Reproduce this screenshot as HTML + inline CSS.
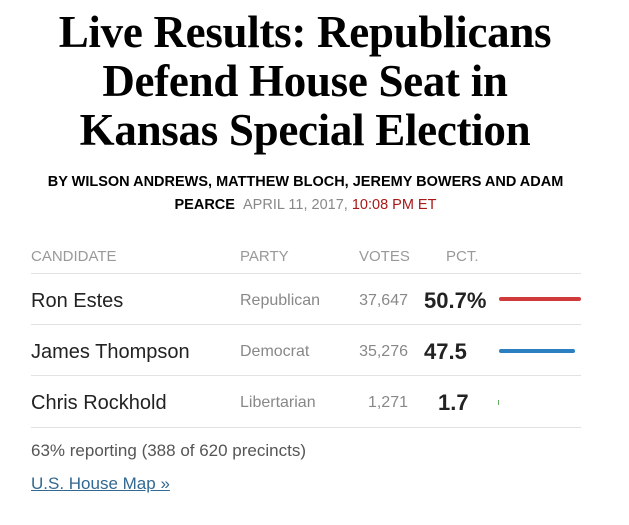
<!DOCTYPE html>
<html><head><meta charset="utf-8"><style>
body{margin:0;width:629px;height:525px;background:#fff;position:relative;overflow:hidden;font-family:"Liberation Sans",sans-serif;}
.a{position:absolute;white-space:nowrap;}
h1{position:absolute;left:0;width:610px;top:8px;margin:0;text-align:center;font-family:"Liberation Serif",serif;font-weight:bold;font-size:45px;line-height:49px;color:#000;letter-spacing:-0.3px;}
.by{left:0;width:611px;text-align:center;font-size:14.5px;font-weight:bold;color:#000;}
.hd{top:248px;font-size:15px;color:#999;}
.ln{left:31px;width:550px;height:1px;background:#e2e2e2;}
.nm{left:31px;font-size:20px;color:#222;}
.pt{left:240px;font-size:16px;color:#888;}
.vt{right:221px;font-size:16px;color:#888;text-align:right;}
.pc{font-size:22px;font-weight:bold;color:#222;}
.bar{height:4px;border-radius:2px;}
</style></head><body>
<h1>Live Results: Republicans<br>Defend House Seat in<br>Kansas Special Election</h1>
<div class="a by" style="top:174px">BY WILSON ANDREWS, MATTHEW BLOCH, JEREMY BOWERS AND ADAM</div>
<div class="a by" style="top:197px">PEARCE&nbsp; <span style="font-weight:normal;color:#888">APRIL 11, 2017, </span><span style="font-weight:normal;color:#a81817">10:08 PM ET</span></div>
<div class="a hd" style="left:31px">CANDIDATE</div>
<div class="a hd" style="left:240px">PARTY</div>
<div class="a hd" style="left:359px">VOTES</div>
<div class="a hd" style="left:446px">PCT.</div>
<div class="a ln" style="top:273px"></div>
<div class="a nm" style="top:290px">Ron Estes</div>
<div class="a pt" style="top:292px">Republican</div>
<div class="a vt" style="top:292px">37,647</div>
<div class="a pc" style="left:424px;top:288px">50.7%</div>
<div class="a bar" style="left:499px;width:82px;top:297px;background:#d03a3a"></div>
<div class="a ln" style="top:324px"></div>
<div class="a nm" style="top:341px">James Thompson</div>
<div class="a pt" style="top:343px">Democrat</div>
<div class="a vt" style="top:343px">35,276</div>
<div class="a pc" style="left:424px;top:339px">47.5</div>
<div class="a bar" style="left:499px;width:76px;top:349px;background:#2a80c0"></div>
<div class="a ln" style="top:375px"></div>
<div class="a nm" style="top:392px">Chris Rockhold</div>
<div class="a pt" style="top:394px">Libertarian</div>
<div class="a vt" style="top:394px">1,271</div>
<div class="a pc" style="left:438px;top:390px">1.7</div>
<div class="a" style="left:498px;width:1px;height:5px;top:400px;background:#6a6"></div>
<div class="a ln" style="top:427px"></div>
<div class="a" style="left:31px;top:441px;font-size:17px;color:#555">63% reporting (388 of 620 precincts)</div>
<div class="a" style="left:31px;top:474px;font-size:17px;color:#326891;text-decoration:underline">U.S. House Map »</div>
</body></html>
